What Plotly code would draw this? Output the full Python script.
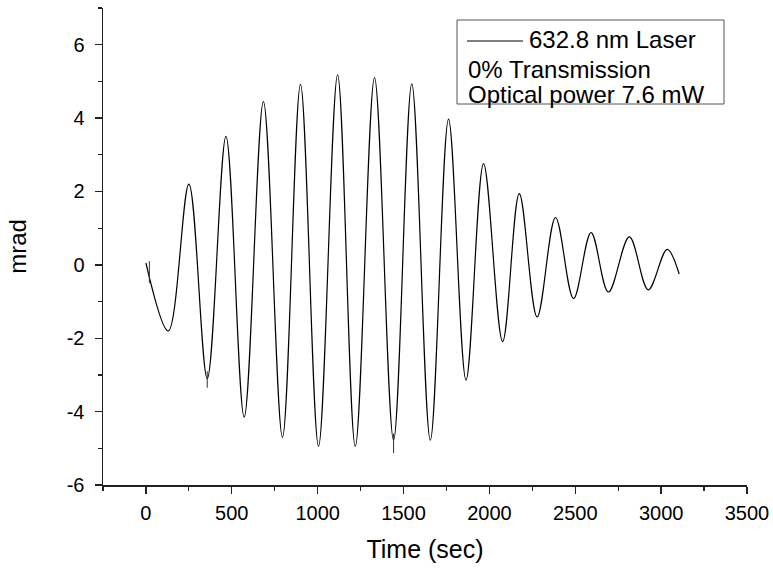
import plotly.graph_objects as go

# Extrema (and end points)
time_sec = [0, 130, 250, 357, 466, 572, 684, 795, 900, 1005, 1116, 1219, 1331,
            1442, 1548, 1656, 1762, 1864, 1966, 2077, 2174, 2278, 2385, 2490,
            2592, 2693, 2815, 2925, 3035, 3105]
mrad = [0.05, -1.8, 2.2, -3.1, 3.5, -4.15, 4.45, -4.7, 4.92, -4.95, 5.18, -4.95, 5.1,
        -4.78, 4.93, -4.78, 3.97, -3.14, 2.76, -2.09, 1.94, -1.42, 1.29, -0.92,
        0.88, -0.74, 0.76, -0.68, 0.42, -0.25]

# Short noise spikes visible on the trace (time, low, high)
spike_t = [20, 357, 1442]
spike_lo = [-0.5, -3.35, -5.13]
spike_hi = [0.1, -2.9, -4.6]

x_ticks = [0, 500, 1000, 1500, 2000, 2500, 3000, 3500]
y_ticks = [-6, -4, -2, 0, 2, 4, 6]

legend_lines = ["632.8 nm Laser", "0% Transmission", "Optical power 7.6 mW"]

FONT = "Liberation Sans, Arial, sans-serif"

FW, FH = 773, 569

fig = go.Figure()
fig.add_trace(go.Scatter(
    x=time_sec, y=mrad, mode="lines",
    line=dict(color="black", width=1.2, shape="spline", smoothing=1.0),
    showlegend=False, hoverinfo="skip"))

sx, sy = [], []
for t, lo, hi in zip(spike_t, spike_lo, spike_hi):
    sx += [t, t, None]
    sy += [lo, hi, None]
fig.add_trace(go.Scatter(x=sx, y=sy, mode="lines",
                         line=dict(color="#333", width=1),
                         showlegend=False, hoverinfo="skip"))

# plot area in page pixels: x 103..747, y 8..485
L, R, T, B = 103, 747, 8, 485
W, H = R - L, B - T


def px(x):
    return (x - L) / W


def py(y):
    return (B - y) / H


fig.add_shape(type="rect", xref="paper", yref="paper",
              x0=px(457), x1=px(724), y0=py(104), y1=py(20),
              line=dict(color="#555", width=1), fillcolor="white", layer="above")
fig.add_shape(type="line", xref="paper", yref="paper",
              x0=px(467), x1=px(523), y0=py(41), y1=py(41),
              line=dict(color="black", width=1), layer="above")
for txt, xx, yy in zip(legend_lines, [527, 466, 466], [40, 69, 95]):
    fig.add_annotation(text=txt, xref="paper", yref="paper", x=px(xx), y=py(yy),
                       xanchor="left", yanchor="middle", showarrow=False,
                       font=dict(family=FONT, size=24, color="black"))

axis_common = dict(showline=True, linecolor="#222", linewidth=1.5,
                   ticks="outside", tickcolor="#222", tickwidth=1.3, ticklen=7,
                   showgrid=False, zeroline=False, mirror=False,
                   tickfont=dict(family=FONT, size=20, color="black"))

fig.update_xaxes(range=[-250, 3500], tickvals=x_ticks,
                 ticktext=[str(v) for v in x_ticks],
                 minor=dict(ticks="outside", dtick=250, tick0=-250, ticklen=4,
                            tickcolor="#222", tickwidth=1.2),
                 title=dict(text="Time (sec)", font=dict(family=FONT, size=25, color="black"),
                            standoff=18),
                 ticklabelstandoff=2,
                 **axis_common)
fig.update_yaxes(range=[-6, 7], tickvals=y_ticks,
                 ticktext=[str(v) for v in y_ticks],
                 minor=dict(ticks="outside", dtick=1, tick0=-5, ticklen=4,
                            tickcolor="#222", tickwidth=1.2),
                 title=dict(text="mrad", font=dict(family=FONT, size=24, color="black"),
                            standoff=33),
                 ticklabelstandoff=6,
                 **axis_common)

fig.update_layout(width=FW, height=FH,
                  margin=dict(l=L, r=FW - R, t=T, b=FH - B, autoexpand=False),
                  plot_bgcolor="white", paper_bgcolor="white",
                  showlegend=False)

fig.write_html("out.html",
               config={"displayModeBar": False, "staticPlot": True},
               post_script="document.body.style.margin='0';"
                           "document.body.style.overflow='hidden';")
